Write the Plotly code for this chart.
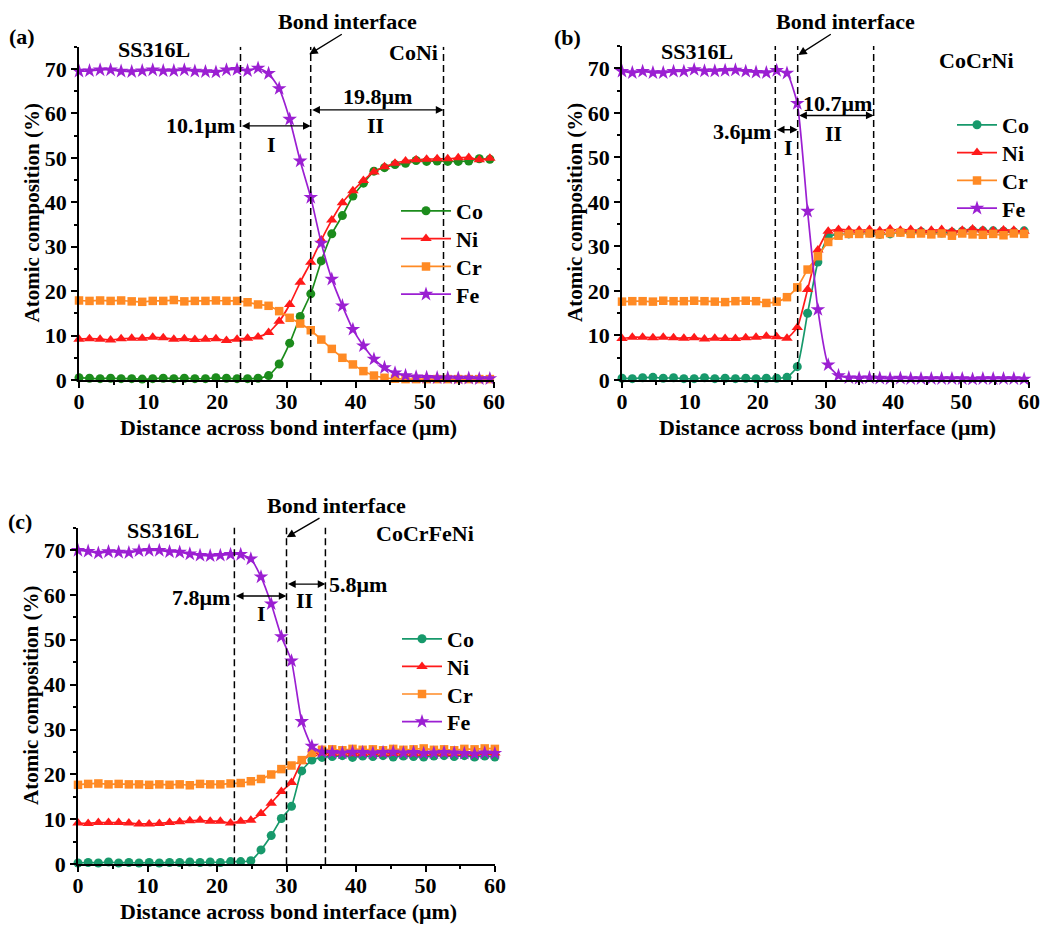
import plotly.graph_objects as go

W, H = 1054, 925
FONT = "Liberation Serif"

# ---- line-scan positions (µm) ----
dist_a = [0.0, 1.52, 3.05, 4.57, 6.09, 7.62, 9.14, 10.66, 12.18, 13.71, 15.23, 16.75, 18.28, 19.80,
          21.32, 22.85, 24.37, 25.89, 27.41, 28.94, 30.46, 31.98, 33.51, 35.03, 36.55, 38.08, 39.60,
          41.12, 42.64, 44.17, 45.69, 47.21, 48.74, 50.26, 51.78, 53.31, 54.83, 56.35, 57.87, 59.40]
dist_b = [0.0, 1.52, 3.04, 4.56, 6.08, 7.60, 9.12, 10.64, 12.16, 13.68, 15.20, 16.72, 18.24, 19.76,
          21.28, 22.80, 24.32, 25.84, 27.36, 28.88, 30.40, 31.92, 33.44, 34.96, 36.48, 38.00, 39.52,
          41.04, 42.56, 44.08, 45.60, 47.12, 48.64, 50.16, 51.68, 53.20, 54.72, 56.24, 57.76, 59.28]
dist_c = [0.0, 1.46, 2.93, 4.39, 5.85, 7.32, 8.78, 10.24, 11.70, 13.17, 14.63, 16.09, 17.56, 19.02,
          20.48, 21.95, 23.41, 24.87, 26.33, 27.80, 29.26, 30.72, 32.19, 33.65, 35.11, 36.58, 38.04,
          39.50, 40.96, 42.43, 43.89, 45.35, 46.82, 48.28, 49.74, 51.21, 52.67, 54.13, 55.59, 57.06,
          58.52, 59.98]

# ---- (a) SS316L / CoNi, atomic % ----
co_a = [0.5, 0.4, 0.3, 0.4, 0.3, 0.3, 0.2, 0.3, 0.4, 0.3, 0.4, 0.3, 0.3, 0.5, 0.4, 0.3, 0.3, 0.4,
        1.0, 3.6, 8.3, 14.3, 19.4, 26.8, 32.9, 37.0, 41.4, 44.3, 47.0, 47.8, 48.5, 48.8, 49.4, 49.2,
        49.3, 49.2, 49.2, 49.3, 49.8, 49.7]
ni_a = [9.2, 9.3, 9.2, 9.0, 9.3, 9.4, 9.4, 9.6, 9.5, 9.2, 9.3, 9.1, 9.2, 9.3, 8.9, 9.2, 9.4, 9.7,
        10.7, 13.2, 17.0, 22.0, 26.5, 31.5, 36.0, 39.9, 42.6, 44.9, 46.8, 48.0, 48.8, 49.3, 49.6,
        49.7, 49.8, 49.8, 50.0, 50.1, 49.6, 49.9]
cr_a = [17.9, 17.8, 17.9, 17.8, 17.9, 17.7, 17.6, 17.8, 17.8, 18.0, 17.7, 17.8, 17.8, 17.9, 17.8,
        17.8, 17.5, 17.0, 16.7, 15.5, 14.0, 12.7, 11.2, 9.1, 7.0, 5.0, 3.5, 2.0, 1.0, 0.5, 0.3, 0.2,
        0.2, 0.2, 0.2, 0.2, 0.2, 0.2, 0.2, 0.2]
fe_a = [69.5, 69.6, 69.8, 69.8, 69.5, 69.4, 69.6, 69.8, 69.6, 69.6, 69.8, 69.5, 69.4, 69.3, 69.8,
        69.9, 69.6, 70.2, 69.0, 65.6, 58.7, 49.3, 41.1, 30.8, 22.7, 16.7, 11.4, 7.7, 4.7, 2.8, 1.6,
        1.0, 0.7, 0.6, 0.5, 0.5, 0.4, 0.4, 0.3, 0.3]

# ---- (b) SS316L / CoCrNi ----
co_b = [0.4, 0.3, 0.5, 0.6, 0.4, 0.5, 0.3, 0.3, 0.5, 0.3, 0.4, 0.3, 0.4, 0.3, 0.4, 0.4, 0.6,
        3.0, 15.0, 26.5, 32.2, 32.7, 32.8, 32.9, 33.0, 32.7, 32.8, 33.2, 33.0, 33.3, 33.1, 33.0,
        33.2, 33.4, 33.6, 33.5, 33.5, 33.4, 33.3, 33.5]
ni_b = [9.3, 9.6, 9.6, 9.5, 9.6, 9.5, 9.4, 9.5, 9.2, 9.4, 9.3, 9.3, 9.5, 9.6, 9.8, 9.7, 9.4,
        11.8, 20.3, 29.2, 33.4, 33.8, 33.7, 33.6, 33.8, 33.5, 33.9, 33.6, 33.8, 33.5, 33.6, 33.8,
        33.4, 33.6, 33.9, 33.6, 33.5, 33.7, 33.6, 33.4]
cr_b = [17.6, 17.7, 17.7, 17.6, 17.8, 17.7, 17.7, 17.8, 17.7, 17.6, 17.5, 17.7, 17.8, 17.7, 17.3,
        17.6, 18.6, 20.8, 24.8, 27.8, 31.0, 32.4, 32.8, 32.8, 32.9, 32.7, 33.0, 33.1, 32.8, 32.9,
        32.7, 32.9, 32.4, 32.9, 32.7, 32.6, 32.8, 32.5, 32.9, 32.8]
fe_b = [69.3, 69.0, 69.3, 69.0, 69.0, 69.3, 69.3, 69.7, 69.4, 69.4, 69.5, 69.6, 69.3, 69.1, 69.0,
        69.5, 68.9, 62.1, 37.9, 15.8, 3.4, 1.0, 0.5, 0.4, 0.5, 0.4, 0.3, 0.4, 0.3, 0.3, 0.3, 0.3,
        0.3, 0.3, 0.2, 0.3, 0.3, 0.3, 0.3, 0.2]

# ---- (c) SS316L / CoCrFeNi ----
co_c = [0.3, 0.4, 0.3, 0.5, 0.3, 0.4, 0.3, 0.4, 0.3, 0.4, 0.4, 0.5, 0.4, 0.5, 0.4, 0.6, 0.6,
        0.8, 3.2, 6.4, 10.2, 12.9, 20.8, 23.2, 23.8, 24.0, 24.2, 23.8, 24.1, 24.0, 24.2, 23.9,
        24.1, 24.0, 23.9, 24.1, 24.2, 24.0, 24.2, 23.9, 24.1, 23.9]
ni_c = [9.2, 9.1, 9.3, 9.3, 9.3, 9.2, 9.0, 9.0, 9.1, 9.3, 9.5, 9.7, 9.8, 9.6, 9.6, 9.2, 9.6,
        9.8, 11.3, 13.6, 16.2, 18.2, 22.9, 24.6, 24.8, 24.7, 24.8, 24.6, 24.7, 24.9, 24.6, 24.7,
        24.8, 24.6, 24.7, 24.8, 24.6, 24.7, 24.8, 24.7, 24.9, 24.8]
cr_c = [17.7, 17.9, 18.0, 17.8, 17.9, 17.8, 17.8, 17.7, 17.8, 17.7, 17.8, 17.6, 17.9, 17.8, 17.8,
        18.0, 18.1, 18.5, 19.0, 20.0, 21.2, 22.0, 23.2, 24.8, 25.5, 25.6, 25.4, 25.7, 25.5, 25.6,
        25.4, 25.7, 25.5, 25.6, 25.8, 25.5, 25.6, 25.4, 25.7, 25.6, 25.8, 25.7]
fe_c = [69.9, 69.7, 69.3, 69.6, 69.5, 69.4, 69.8, 69.9, 69.9, 69.6, 69.5, 69.1, 68.8, 68.7, 68.8,
        69.0, 69.0, 68.0, 64.0, 58.0, 50.7, 45.3, 31.8, 26.3, 25.0, 24.9, 24.8, 25.0, 24.9, 24.8,
        24.9, 25.0, 24.8, 24.9, 24.7, 24.8, 24.9, 24.8, 24.7, 24.6, 24.8, 24.7]

elements = ["Co", "Ni", "Cr", "Fe"]

# Zone boundaries (µm), zone widths and labels per panel
panels = [
    dict(tag="(a)", alloy="CoNi", dist=dist_a, data=[co_a, ni_a, cr_a, fe_a],
         co_color="#1c8c1c", bounds=[23.35, 33.5, 52.7], w1="10.1μm", w2="19.8μm"),
    dict(tag="(b)", alloy="CoCrNi", dist=dist_b, data=[co_b, ni_b, cr_b, fe_b],
         co_color="#17996b", bounds=[22.6, 25.9, 37.1], w1="3.6μm", w2="10.7μm"),
    dict(tag="(c)", alloy="CoCrFeNi", dist=dist_c, data=[co_c, ni_c, cr_c, fe_c],
         co_color="#17996b", bounds=[22.5, 30.0, 35.6], w1="7.8μm", w2="5.8μm"),
]

colors_rest = {"Ni": "#ff1a1a", "Cr": "#ff8a24", "Fe": "#9b1fd2"}
symbols = {"Co": "circle", "Ni": "triangle-up", "Cr": "square", "Fe": "star"}
sizes = {"Co": 9, "Ni": 10, "Cr": 8.5, "Fe": 11}

# plot areas in pixels: (left, right, top, bottom)
boxes = [(79, 494, 46.8, 380), (622, 1029, 46.0, 380), (78, 495, 527.5, 864.3)]

# legend block per panel: left edge (px), centre of first entry (px), entry pitch, symbol width
legend_blocks = [(396, 211, 27.8, 50), (952, 125, 27.8, 40), (397, 639, 27.6, 40)]


def px_x(v):
    return v / W


def px_y(v):
    return 1 - v / H


def fnt(size):
    return dict(family=FONT, size=size, color="black", weight="bold")


def label(text, x, y, xref, yref, size=22, xanchor="center", **kw):
    return dict(text=text, x=x, y=y, xref=xref, yref=yref, showarrow=False,
                xanchor=xanchor, yanchor="middle", font=fnt(size), **kw)


fig = go.Figure()
layout = dict(width=W, height=H, margin=dict(l=0, r=0, t=0, b=0, autoexpand=False),
              paper_bgcolor="white", plot_bgcolor="white", showlegend=True)

leg_index = 0
for k, p in enumerate(panels):
    sfx = "" if k == 0 else str(k + 1)
    xa, ya = "x" + sfx, "y" + sfx
    lx, ly0, pitch, iw = legend_blocks[k]
    for j, (el, vals) in enumerate(zip(elements, p["data"])):
        col = p["co_color"] if el == "Co" else colors_rest[el]
        leg_index += 1
        leg = "legend" if leg_index == 1 else "legend%d" % leg_index
        layout[leg] = dict(x=px_x(lx), y=px_y(ly0 + j * pitch), xanchor="left",
                           yanchor="middle", bgcolor="rgba(0,0,0,0)", font=fnt(22),
                           itemwidth=iw, borderwidth=0)
        fig.add_trace(go.Scatter(
            x=p["dist"], y=vals, name=el, mode="lines+markers",
            line=dict(color=col, width=1.7, shape="spline", smoothing=0.5),
            marker=dict(symbol=symbols[el], size=sizes[el], color=col, line=dict(width=0)),
            xaxis=xa, yaxis=ya, legend=leg, cliponaxis=False,
        ))

axis_common = dict(showline=True, linecolor="black", linewidth=1.5, ticks="outside",
                   ticklen=6, tickwidth=1.5, tickcolor="black", showgrid=False, zeroline=False,
                   tickfont=fnt(22), mirror=False, automargin=False)

shapes, annotations = [], []
for k, p in enumerate(panels):
    sfx = "" if k == 0 else str(k + 1)
    l, r, t, b = boxes[k]
    layout["xaxis" + sfx] = dict(
        axis_common, domain=[px_x(l), px_x(r)], range=[0, 60], dtick=10, tick0=0,
        minor=dict(ticks="outside", ticklen=3, dtick=5, tickcolor="black", tickwidth=1.5),
        anchor="y" + sfx, ticklabelstandoff=-5)
    layout["yaxis" + sfx] = dict(
        axis_common, domain=[px_y(b), px_y(t)], range=[0, 75], dtick=10, tick0=0,
        minor=dict(ticks="outside", ticklen=3, dtick=5, tickcolor="black", tickwidth=1.5),
        anchor="x" + sfx)

    # axis titles
    title_gap = 48 if k < 2 else 47
    annotations.append(label("Distance across bond interface (μm)",
                             px_x((l + r) / 2 + 2), px_y(b + title_gap), "paper", "paper"))
    annotations.append(label("Atomic composition (%)", px_x(l - 47), px_y((t + b) / 2),
                             "paper", "paper", size=21, textangle=-90))

    xr, yr = "x" + sfx, "y" + sfx
    for xv in p["bounds"]:
        shapes.append(dict(type="line", xref=xr, yref=yr, x0=xv, x1=xv, y0=0, y1=75,
                           line=dict(color="black", width=1.5, dash="7px,4px")))

panel_text = [
    dict(tag=(22, 36), bond=(347, 22), tail=(343.3, 33.3), tip=(309.3, 54.3),
         ss=(10.8, 74.3), alloy=(48.4, 73.7), y1=57.2, y2=60.8,
         w1=(22.8, 57.2, "right"), w2=(43.2, 63.9, "center"),
         z1=(27.9, 52.9), z2=(42.8, 57.2)),
    dict(tag=(567, 37), bond=(845, 22), tail=(832.3, 33.3), tip=(798.3, 55),
         ss=(11.1, 73.7), alloy=(52.3, 71.8), y1=56.2, y2=59.4,
         w1=(22.3, 55.7, "right"), w2=(31.7, 62.2, "center"),
         z1=(24.5, 52.3), z2=(31.2, 55.3)),
    dict(tag=(20, 521), bond=(336, 506), tail=(321, 517.3), tip=(286.7, 537.3),
         ss=(12.3, 74.3), alloy=(49.9, 73.6), y1=59.75, y2=62.4,
         w1=(22.1, 59.4, "right"), w2=(35.8, 62.4, "left"),
         z1=(26.4, 55.9), z2=(32.6, 58.7)),
]

for k, p in enumerate(panels):
    sfx = "" if k == 0 else str(k + 1)
    xr, yr = "x" + sfx, "y" + sfx
    q = panel_text[k]
    b1, b2, b3 = p["bounds"]
    # panel tag and "Bond interface" caption with its pointer
    annotations.append(label(p["tag"], px_x(q["tag"][0]), px_y(q["tag"][1]), "paper", "paper"))
    annotations.append(label("Bond interface", px_x(q["bond"][0]), px_y(q["bond"][1]),
                             "paper", "paper"))
    annotations.append(dict(text="", x=px_x(q["tip"][0]), y=px_y(q["tip"][1]),
                            ax=q["tail"][0] - q["tip"][0], ay=q["tail"][1] - q["tip"][1],
                            xref="paper", yref="paper", axref="pixel", ayref="pixel",
                            showarrow=True, arrowhead=2, arrowsize=1.2, arrowwidth=1.4,
                            arrowcolor="black", standoff=0))
    # material labels
    annotations.append(label("SS316L", q["ss"][0], q["ss"][1], xr, yr))
    annotations.append(label(p["alloy"], q["alloy"][0], q["alloy"][1], xr, yr))
    # double-headed arrows spanning zones I and II
    for (x0, x1, yv) in [(b1, b2, q["y1"]), (b2, b3, q["y2"])]:
        annotations.append(dict(text="", x=x1, y=yv, ax=x0, ay=yv, xref=xr, yref=yr,
                                axref=xr, ayref=yr, showarrow=True, arrowhead=2,
                                startarrowhead=2, arrowside="end+start", arrowsize=1.1,
                                arrowwidth=1.4, arrowcolor="black", standoff=0,
                                startstandoff=0))
    annotations.append(label(p["w1"], q["w1"][0], q["w1"][1], xr, yr, xanchor=q["w1"][2]))
    annotations.append(label(p["w2"], q["w2"][0], q["w2"][1], xr, yr, xanchor=q["w2"][2]))
    annotations.append(label("I", q["z1"][0], q["z1"][1], xr, yr))
    annotations.append(label("II", q["z2"][0], q["z2"][1], xr, yr))

layout["shapes"] = shapes
layout["annotations"] = annotations
fig.update_layout(**layout)
fig.write_html("out.html")
